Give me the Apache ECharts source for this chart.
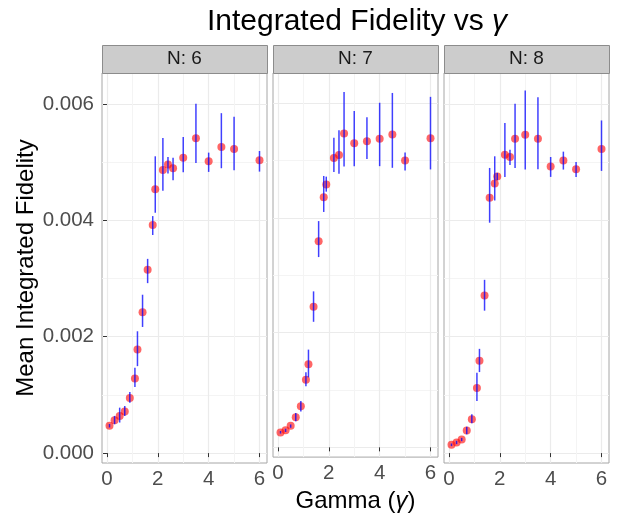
<!DOCTYPE html>
<html>
<head>
<meta charset="utf-8">
<script src="https://cdn.jsdelivr.net/npm/echarts@6/dist/echarts.min.js"></script>
<style>
  html, body { margin: 0; padding: 0; background: #fff; }
  #chart { width: 618px; height: 518px; }
</style>
</head>
<body>
<div id="chart"></div>
<script>
// gamma values shared by all three panels
const gamma = [0.1, 0.3, 0.5, 0.7, 0.9, 1.1, 1.2, 1.4, 1.6, 1.8, 1.9, 2.2, 2.4, 2.6, 3, 3.5, 4, 4.5, 5, 6];
const panelNames = ["N: 6", "N: 7", "N: 8"];
const xTicks = [0, 2, 4, 6];
const xMinor = [1, 3, 5];
const yTicks = [0, 0.002, 0.004, 0.006];
const yMinor = [0.001, 0.003, 0.005];

// N = 6
const fid6 = [0.000468, 0.000565, 0.000639, 0.000713, 0.000947, 0.001283, 0.001779, 0.002418, 0.003148, 0.003918, 0.004534, 0.004865, 0.004956, 0.004894, 0.005076, 0.005407, 0.005013, 0.005258, 0.005224, 0.005030];
const lo6 = [0.000440, 0.000496, 0.000525, 0.000639, 0.000867, 0.001135, 0.001494, 0.002167, 0.002920, 0.003747, 0.004129, 0.004506, 0.004802, 0.004688, 0.004825, 0.004985, 0.004831, 0.004894, 0.004859, 0.004836];
const hi6 = [0.000500, 0.000639, 0.000781, 0.000810, 0.001049, 0.001466, 0.002093, 0.002721, 0.003337, 0.004072, 0.005099, 0.005413, 0.005087, 0.005076, 0.005430, 0.006000, 0.005162, 0.005840, 0.005778, 0.005190];
// N = 7
const fid7 = [0.000257, 0.000297, 0.000376, 0.000525, 0.000719, 0.001181, 0.001449, 0.002452, 0.003593, 0.004363, 0.004586, 0.005048, 0.005099, 0.005475, 0.005304, 0.005338, 0.005384, 0.005458, 0.005002, 0.005390];
const lo7 = [0.000240, 0.000268, 0.000342, 0.000456, 0.000627, 0.001067, 0.001221, 0.002190, 0.003319, 0.004106, 0.004460, 0.004802, 0.004774, 0.004899, 0.004905, 0.005030, 0.004905, 0.004876, 0.004831, 0.004848];
const hi7 = [0.000285, 0.000325, 0.000399, 0.000599, 0.000810, 0.001312, 0.001705, 0.002721, 0.003947, 0.004734, 0.004722, 0.005401, 0.005532, 0.006200, 0.005869, 0.005760, 0.006011, 0.006182, 0.005144, 0.006114];
// N = 8
const fid8 = [0.000143, 0.000183, 0.000234, 0.000388, 0.000582, 0.001118, 0.001586, 0.002709, 0.004386, 0.004631, 0.004751, 0.005127, 0.005087, 0.005401, 0.005470, 0.005401, 0.004922, 0.005025, 0.004876, 0.005224];
const lo8 = [0.000120, 0.000154, 0.000205, 0.000325, 0.000513, 0.000895, 0.001392, 0.002447, 0.003958, 0.004340, 0.004688, 0.004745, 0.004951, 0.004899, 0.004871, 0.004876, 0.004745, 0.004871, 0.004745, 0.004848];
const hi8 = [0.000165, 0.000211, 0.000262, 0.000451, 0.000667, 0.001380, 0.001791, 0.002977, 0.004899, 0.005099, 0.004814, 0.005669, 0.005213, 0.006000, 0.006228, 0.006114, 0.005087, 0.005179, 0.005002, 0.005715];

const fids = [fid6, fid7, fid8];
const los = [lo6, lo7, lo8];
const his = [hi6, hi7, hi8];

const FONT = "'Liberation Sans', Arial, sans-serif";
const panelLeft = [102, 273, 444];
const panelWidth = 165;
const panelTop = 73;
const panelHeight = 390;
const stripHeight = 28;

const chart = echarts.init(document.getElementById("chart"));

const grids = [];
const xAxes = [];
const yAxes = [];
const series = [];
const graphics = [];

panelNames.forEach((name, i) => {
  grids.push({
    left: panelLeft[i],
    top: panelTop,
    width: panelWidth,
    height: panelHeight,
    show: true,
    borderColor: "#a6a6a6",
    borderWidth: 1,
    backgroundColor: "#fff",
  });

  // major x axis
  xAxes.push({
    gridIndex: i,
    type: "value",
    min: -0.195,
    max: 6.295,
    position: "bottom",
    axisLine: { show: false },
    axisTick: { show: true, length: 4, customValues: xTicks, lineStyle: { color: "#333" } },
    axisLabel: { customValues: xTicks, fontSize: 20.5, color: "#4d4d4d", fontFamily: FONT, margin: 6 },
    splitLine: { show: true, lineStyle: { color: "#ebebeb", width: 1.2 } },
    name: i === 1 ? "Gamma ({g|γ})" : "",
    nameLocation: "middle",
    nameGap: 30,
    nameTextStyle: {
      fontSize: 24,
      color: "#000",
      fontFamily: FONT,
      rich: { g: { fontSize: 24, fontStyle: "italic", fontFamily: FONT, color: "#000" } },
    },
  });

  // major y axis
  yAxes.push({
    gridIndex: i,
    type: "value",
    min: -0.00017,
    max: 0.00653,
    position: "left",
    axisLine: { show: false },
    axisTick: { show: i === 0, length: 4, customValues: yTicks, lineStyle: { color: "#333" } },
    axisLabel: {
      show: i === 0,
      customValues: yTicks,
      fontSize: 20.5,
      color: "#4d4d4d",
      fontFamily: FONT,
      margin: 8,
      formatter: (v) => v.toFixed(3),
    },
    splitLine: { show: true, lineStyle: { color: "#ebebeb", width: 1.2 } },
    name: i === 0 ? "Mean Integrated Fidelity" : "",
    nameLocation: "middle",
    nameGap: 64,
    nameTextStyle: { fontSize: 24, color: "#000", fontFamily: FONT },
  });

  // strip on top of each panel
  graphics.push({
    type: "rect",
    shape: { x: panelLeft[i] + 0.5, y: panelTop - stripHeight + 0.5, width: panelWidth, height: stripHeight },
    style: { fill: "#cccccc", stroke: "#8c8c8c", lineWidth: 1 },
    z: 10,
  });
  graphics.push({
    type: "text",
    x: panelLeft[i] + panelWidth / 2,
    y: panelTop - stripHeight / 2,
    style: { text: name, fontSize: 19, fontFamily: FONT, fill: "#1a1a1a", align: "center", verticalAlign: "middle" },
    z: 11,
  });
});

// minor grid lines via hidden axes
panelNames.forEach((name, i) => {
  xAxes.push({
    gridIndex: i,
    type: "value",
    min: -0.195,
    max: 6.295,
    position: "top",
    axisLine: { show: false },
    axisTick: { show: false, customValues: xMinor },
    axisLabel: { show: false, customValues: xMinor },
    splitLine: { show: true, lineStyle: { color: "#f4f4f4", width: 1 } },
  });
  yAxes.push({
    gridIndex: i,
    type: "value",
    min: -0.00017,
    max: 0.00653,
    position: "right",
    axisLine: { show: false },
    axisTick: { show: false, customValues: yMinor },
    axisLabel: { show: false, customValues: yMinor },
    splitLine: { show: true, lineStyle: { color: "#f4f4f4", width: 1 } },
  });
});

panelNames.forEach((name, i) => {
  series.push({
    type: "scatter",
    xAxisIndex: i,
    yAxisIndex: i,
    data: gamma.map((g, k) => [g, fids[i][k]]),
    symbolSize: 8,
    itemStyle: { color: "#ff0000", opacity: 0.6 },
    z: 2,
  });
  series.push({
    type: "custom",
    xAxisIndex: i,
    yAxisIndex: i,
    data: gamma.map((g, k) => [g, los[i][k], his[i][k]]),
    encode: { x: 0, y: [1, 2] },
    renderItem: (params, api) => {
      const top = api.coord([api.value(0), api.value(2)]);
      const bottom = api.coord([api.value(0), api.value(1)]);
      return {
        type: "line",
        shape: { x1: top[0], y1: top[1], x2: bottom[0], y2: bottom[1] },
        style: { stroke: "#0000ff", lineWidth: 1.5, opacity: 0.75 },
      };
    },
    z: 3,
  });
});

// plot title
graphics.push({
  type: "text",
  x: 357,
  y: 7,
  style: {
    text: "Integrated Fidelity vs {g|γ}",
    fontSize: 30,
    fontFamily: FONT,
    fill: "#000",
    align: "center",
    verticalAlign: "top",
    rich: { g: { fontSize: 30, fontStyle: "italic", fontFamily: FONT, fill: "#000" } },
  },
});

chart.setOption({
  animation: false,
  backgroundColor: "#fff",
  grid: grids,
  xAxis: xAxes,
  yAxis: yAxes,
  series: series,
  graphic: graphics,
});
</script>
</body>
</html>
